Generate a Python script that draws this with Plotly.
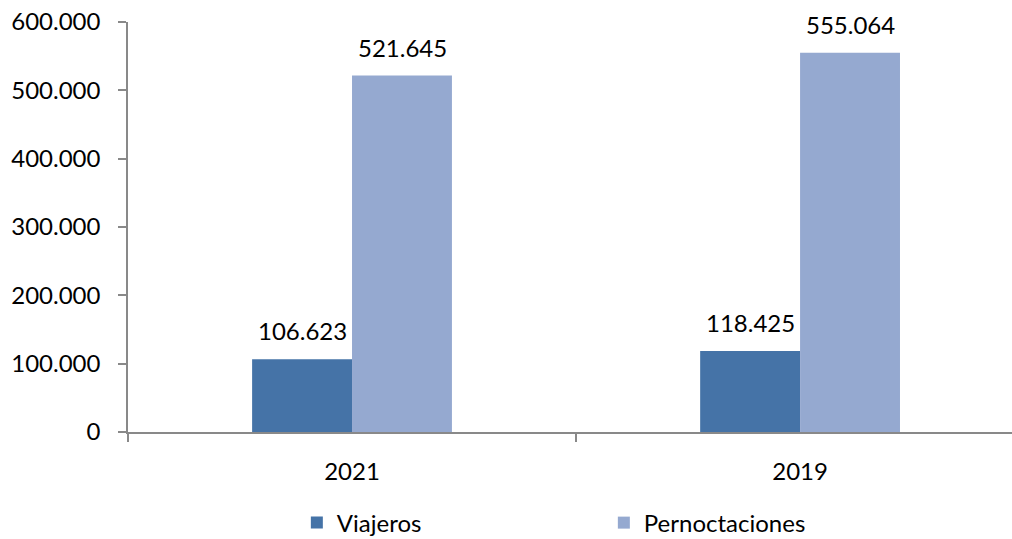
import plotly.graph_objects as go

years = ["2021", "2019"]
viajeros = [106623, 118425]
pernoctaciones = [521645, 555064]
y_ticks = [0, 100000, 200000, 300000, 400000, 500000, 600000]

font_name = "Lato"
fsize = 24

fig = go.Figure()
fig.add_trace(go.Bar(x=years, y=viajeros, name="Viajeros",
                     marker=dict(color="#4573A7", line=dict(width=0))))
fig.add_trace(go.Bar(x=years, y=pernoctaciones, name="Pernoctaciones",
                     marker=dict(color="#95A9D0", line=dict(width=0))))

# data labels, placed a bit above each bar (bars are ~100 px wide)
for series, dx in ((viajeros, -50), (pernoctaciones, 50)):
    for i, v in enumerate(series):
        fig.add_annotation(x=i, y=v, text=f"{v:,}".replace(",", "."),
                           showarrow=False, xshift=dx, yshift=12,
                           yanchor="bottom", font=dict(size=fsize, family=font_name))

fig.update_layout(
    width=1012, height=539,
    barmode="group", bargap=0.554, bargroupgap=0,
    separators=",.",
    plot_bgcolor="white", paper_bgcolor="white",
    font=dict(family=font_name, size=fsize, color="#000000"),
    margin=dict(l=128, r=0, t=22, b=107, autoexpand=False),
    legend=dict(orientation="h", x=0.191, xanchor="left", y=-0.222, yanchor="middle",
                entrywidth=262, entrywidthmode="pixels",
                font=dict(size=fsize)),
)
fig.update_xaxes(
    type="category", range=[-0.5, 1.473], automargin=False,
    showline=True, linecolor="#898989", linewidth=1.5,
    ticks="outside", tickson="boundaries", ticklen=8, tickcolor="#898989", tickwidth=1.5,
    ticklabelstandoff=17, showgrid=False,
)
fig.update_yaxes(
    range=[0, 600000], tickvals=y_ticks, tickformat=",.0f", automargin=False,
    showline=True, linecolor="#898989", linewidth=1.5,
    ticks="outside", ticklen=8, tickcolor="#898989", tickwidth=1.5,
    showgrid=False, zeroline=False, ticklabelstandoff=13,
)

# drop the default page margin so the figure fills the window
fig.write_html("out.html", config={"displayModeBar": False},
               post_script="document.body.style.margin='0';")
